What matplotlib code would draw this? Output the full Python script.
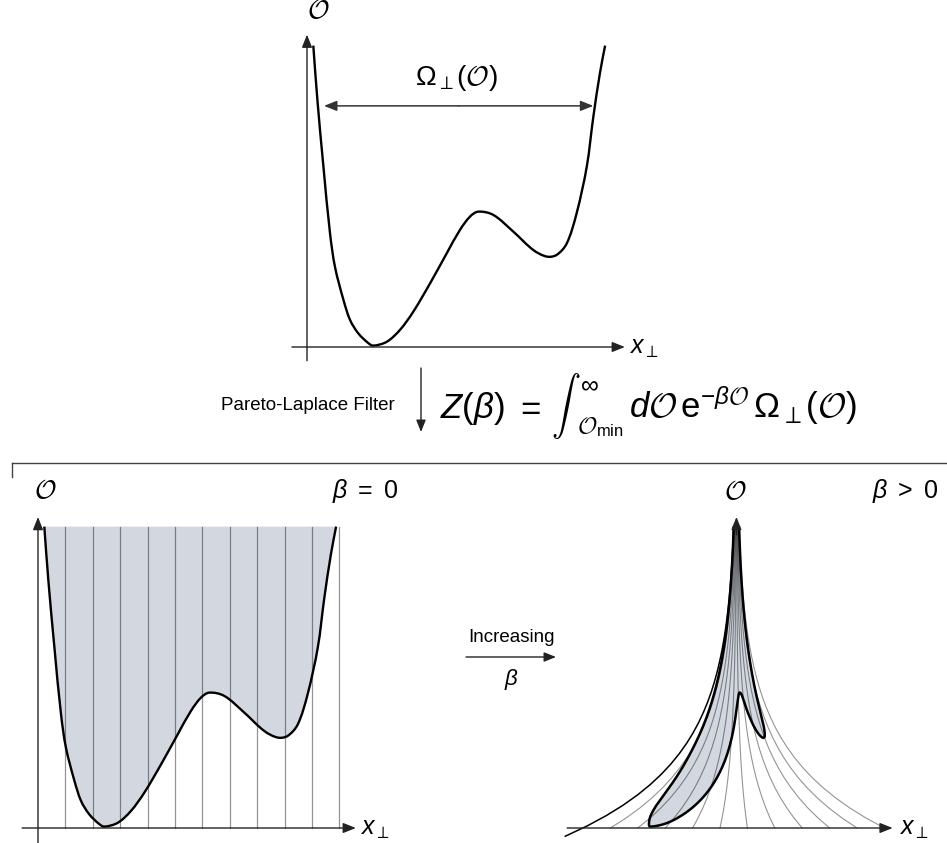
import numpy as np
import matplotlib
matplotlib.use("Agg")
import matplotlib.pyplot as plt
from matplotlib.transforms import Transform, Affine2D
from matplotlib.path import Path
from matplotlib.patches import FancyArrowPatch, ArrowStyle, PathPatch
from matplotlib.lines import Line2D

# ---------------- data (grid units) ----------------
# landscape O(x_perp)
curve_x = [0.23, 0.38, 0.60, 0.84, 1.02, 1.33, 1.57, 1.87, 2.24, 2.42, 2.91, 3.39,
           3.88, 4.49, 5.10, 5.58, 5.95, 6.25, 6.80, 7.53, 8.26, 8.75, 9.11, 9.48,
           9.84, 10.21, 10.45, 10.69, 10.88]
curve_y = [11.0, 9.01, 6.58, 4.15, 2.93, 1.72, 0.99, 0.50, 0.14, 0.05, 0.19, 0.62,
           1.29, 2.32, 3.42, 4.27, 4.76, 4.94, 4.82, 4.21, 3.54, 3.30, 3.36, 3.78,
           4.88, 6.58, 8.40, 9.99, 11.0]
slice_x = [1, 2, 3, 4, 5, 6, 7, 8, 9, 10, 11]   # vertical slices x_perp = const
o_top = 11.0                                     # top of the shaded region
omega_level = 8.8                                # level of the Omega arrow
omega_span = [0.62, 10.45]
warp_center = 5.6                                # x where slices converge (beta > 0)
warp_rate = 0.364                                # strength of the beta filter

# ---------------- style ----------------
plt.rcParams["font.family"] = ["Liberation Sans", "DejaVu Sans"]
plt.rcParams["mathtext.fontset"] = "custom"
plt.rcParams["mathtext.rm"] = "Liberation Sans"
plt.rcParams["mathtext.it"] = "Liberation Sans:italic"
plt.rcParams["mathtext.bf"] = "Liberation Sans:bold"
plt.rcParams["mathtext.sf"] = "Liberation Sans"
plt.rcParams["mathtext.cal"] = "cmsy10"

FILL = "#d3d8e0"
AX = "#222222"
W, H = 947, 843
S = 27.4  # pixels per grid unit

fig = plt.figure(figsize=(W / 100, H / 100), dpi=100)


def fx(px):
    return px / W


def fy(py):
    return 1 - py / H


def panel(ox, oy, x0, x1, y0, y1):
    ax = fig.add_axes([(ox + x0 * S) / W, (H - oy + y0 * S) / H,
                       (x1 - x0) * S / W, (y1 - y0) * S / H])
    ax.set_facecolor("none")
    ax.axis("off")
    ax.set_xlim(x0, x1)
    ax.set_ylim(y0, y1)
    ax.set_autoscale_on(False)
    return ax


def smooth_path(xs, ys, closed=False):
    """Smooth Bezier path through the read-off points (drawn by matplotlib)."""
    P = np.column_stack([xs, ys]).astype(float)
    n = len(P)
    d = np.hypot(*np.diff(P, axis=0).T)
    m = np.zeros_like(P)
    m[0] = (P[1] - P[0]) / d[0]
    m[-1] = (P[-1] - P[-2]) / d[-1]
    for i in range(1, n - 1):
        m[i] = (P[i + 1] - P[i - 1]) / (d[i - 1] + d[i])
    verts = [P[0]]
    codes = [Path.MOVETO]
    for i in range(n - 1):
        verts += [P[i] + m[i] * d[i] / 3, P[i + 1] - m[i + 1] * d[i] / 3, P[i + 1]]
        codes += [Path.CURVE4] * 3
    if closed:
        verts += [P[0], P[0]]
        codes += [Path.LINETO, Path.CLOSEPOLY]
    return Path(np.array(verts), codes)


class Warp(Transform):
    """Squeeze of the (x, O) plane towards x = xc, stronger for larger O."""
    input_dims = output_dims = 2
    is_separable = False
    has_inverse = False

    def __init__(self, xc, k):
        super().__init__()
        self.xc, self.k = xc, k

    def transform_non_affine(self, values):
        v = np.asarray(values, float)
        one = v.ndim == 1
        v = v.reshape(-1, 2)
        f = np.exp(-self.k * v[:, 1])
        out = np.column_stack([self.xc + (v[:, 0] - self.xc) * f, v[:, 1]])
        return out[0] if one else out

    def transform_path_non_affine(self, path):
        polys = path.to_polygons(transform=Affine2D().scale(200), closed_only=False)
        verts, codes = [], []
        for poly in polys:
            p = Path(np.asarray(poly) / 200.0).interpolated(30)
            verts.append(self.transform_non_affine(p.vertices))
            c = np.full(len(p.vertices), Path.LINETO)
            c[0] = Path.MOVETO
            codes.append(c)
        return Path(np.vstack(verts), np.concatenate(codes))


ARW = ArrowStyle("-|>", head_length=0.55, head_width=0.22)


def arrow(ax, p0, p1, color=AX, lw=1.0):
    ax.annotate("", xy=p1, xytext=p0, annotation_clip=False,
                arrowprops=dict(arrowstyle=ARW, color=color, lw=lw,
                                mutation_scale=14, shrinkA=0, shrinkB=0))


def fig_arrow(p0, p1):
    fig.add_artist(FancyArrowPatch((fx(p0[0]), fy(p0[1])), (fx(p1[0]), fy(p1[1])),
                                   transform=fig.transFigure, arrowstyle=ARW,
                                   mutation_scale=13, color=AX, lw=1.0,
                                   shrinkA=0, shrinkB=0))


line_path = smooth_path(curve_x, curve_y)
fill_path = smooth_path(curve_x, curve_y, closed=True)

# ---------------- top panel ----------------
ax1 = panel(307, 347, -1.0, 13.6, -0.8, 12.8)
ax1.add_patch(PathPatch(line_path, fc="none", ec="black", lw=1.7, zorder=3))
arrow(ax1, (-0.55, 0), (11.6, 0))
arrow(ax1, (0, -0.5), (0, 11.4))
arrow(ax1, (np.mean(omega_span), omega_level), (omega_span[0], omega_level), color="#333", lw=1.1)
arrow(ax1, (np.mean(omega_span), omega_level), (omega_span[1], omega_level), color="#333", lw=1.1)
ax1.text(5.45, 9.8, r"$\Omega_{\perp}(\mathcal{O})$", fontsize=20, ha="center", va="center")
ax1.text(0.42, 12.25, r"$\mathcal{O}$", fontsize=19, ha="center", va="center")
ax1.text(11.75, -0.05, r"$x_{\perp}$", fontsize=18, ha="left", va="center")

# ---------------- filter arrow and formula ----------------
fig_arrow((421, 368), (421, 432))
fig.text(fx(395), fy(406), "Pareto-Laplace Filter", fontsize=13.5,
         ha="right", va="center")

renderer = fig.canvas.get_renderer()
FS = 25
base_y = 418
xpos = 440
t = fig.text(fx(xpos), fy(base_y), r"$Z(\beta)$", fontsize=FS, va="baseline")
xpos += t.get_window_extent(renderer).width + 10
t = fig.text(fx(xpos), fy(base_y), r"$=$", fontsize=FS, va="baseline")
xpos += t.get_window_extent(renderer).width + 10
t = fig.text(fx(xpos), fy(base_y - 2), r"$\int$", fontsize=21, va="baseline",
             math_fontfamily="cm")
wi = t.get_window_extent(renderer).width
tu = fig.text(fx(xpos + wi - 1), fy(base_y - 27), r"$\infty$", fontsize=18,
              va="baseline")
ts = fig.text(fx(xpos + wi - 4), fy(base_y + 15), r"$\mathcal{O}_{\mathrm{min}}$",
              fontsize=17, va="baseline")
xpos += max(wi - 1 + tu.get_window_extent(renderer).width,
            wi - 4 + ts.get_window_extent(renderer).width) + 6
fig.text(fx(xpos), fy(base_y),
         r"$d\mathcal{O}\,\mathrm{e}^{-\beta\mathcal{O}}\,\Omega_{\perp}(\mathcal{O})$",
         fontsize=FS, va="baseline")

# bracket
fig.add_artist(Line2D([fx(12), fx(947)], [fy(463), fy(463)], color="#444", lw=1.0))
fig.add_artist(Line2D([fx(12), fx(12)], [fy(463), fy(477)], color="#444", lw=1.0))

# ---------------- bottom-left panel (beta = 0) ----------------
ax2 = panel(38, 828, -1.3, 13.6, -0.6, 12.9)
ax2.add_patch(PathPatch(fill_path, fc=FILL, lw=0, zorder=1))
for sx in slice_x:
    ax2.plot([sx, sx], [0, o_top], color="black", alpha=0.42, lw=0.9, zorder=2)
ax2.add_patch(PathPatch(line_path, fc="none", ec="black", lw=1.7, zorder=3))
arrow(ax2, (-0.58, 0), (11.6, 0))
arrow(ax2, (0, -0.55), (0, 11.35))
ax2.text(0.25, 12.3, r"$\mathcal{O}$", fontsize=19, ha="center", va="center")
ax2.text(11.95, 12.3, r"$\beta\ =\ 0$", fontsize=18, ha="center", va="center")
ax2.text(11.75, -0.05, r"$x_{\perp}$", fontsize=18, ha="left", va="center")

# ---------------- middle arrow ----------------
fig_arrow((466, 657), (556, 657))
fig.text(fx(511), fy(637), "Increasing", fontsize=13.5, ha="center", va="center")
fig.text(fx(511), fy(680), r"$\beta$", fontsize=16, ha="center", va="center")

# ---------------- bottom-right panel (beta > 0) ----------------
ax3 = panel(583, 828, -1.0, 13.3, -0.6, 12.9)
warp = Warp(warp_center, warp_rate) + ax3.transData
ax3.add_patch(PathPatch(fill_path, fc=FILL, lw=0, zorder=1, transform=warp))
for sx in slice_x:
    ax3.plot([sx, sx], [0, o_top], color="black", alpha=0.42, lw=0.8, zorder=2,
             transform=warp)
ax3.plot([0, 0], [-0.3, o_top], color="black", lw=1.1, zorder=2, transform=warp)
ax3.add_patch(PathPatch(line_path, fc="none", ec="black", lw=1.8, zorder=3,
                        transform=warp))
arrow(ax3, (-0.58, 0), (11.3, 0))
arrow(ax3, (warp_center, o_top - 0.3), (warp_center, o_top + 0.35))
ax3.text(warp_center - 0.05, 12.25, r"$\mathcal{O}$", fontsize=19, ha="center", va="center")
ax3.text(11.75, 12.3, r"$\beta\ >\ 0$", fontsize=18, ha="center", va="center")
ax3.text(11.55, -0.05, r"$x_{\perp}$", fontsize=18, ha="left", va="center")

fig.savefig("out.png", dpi=100)
